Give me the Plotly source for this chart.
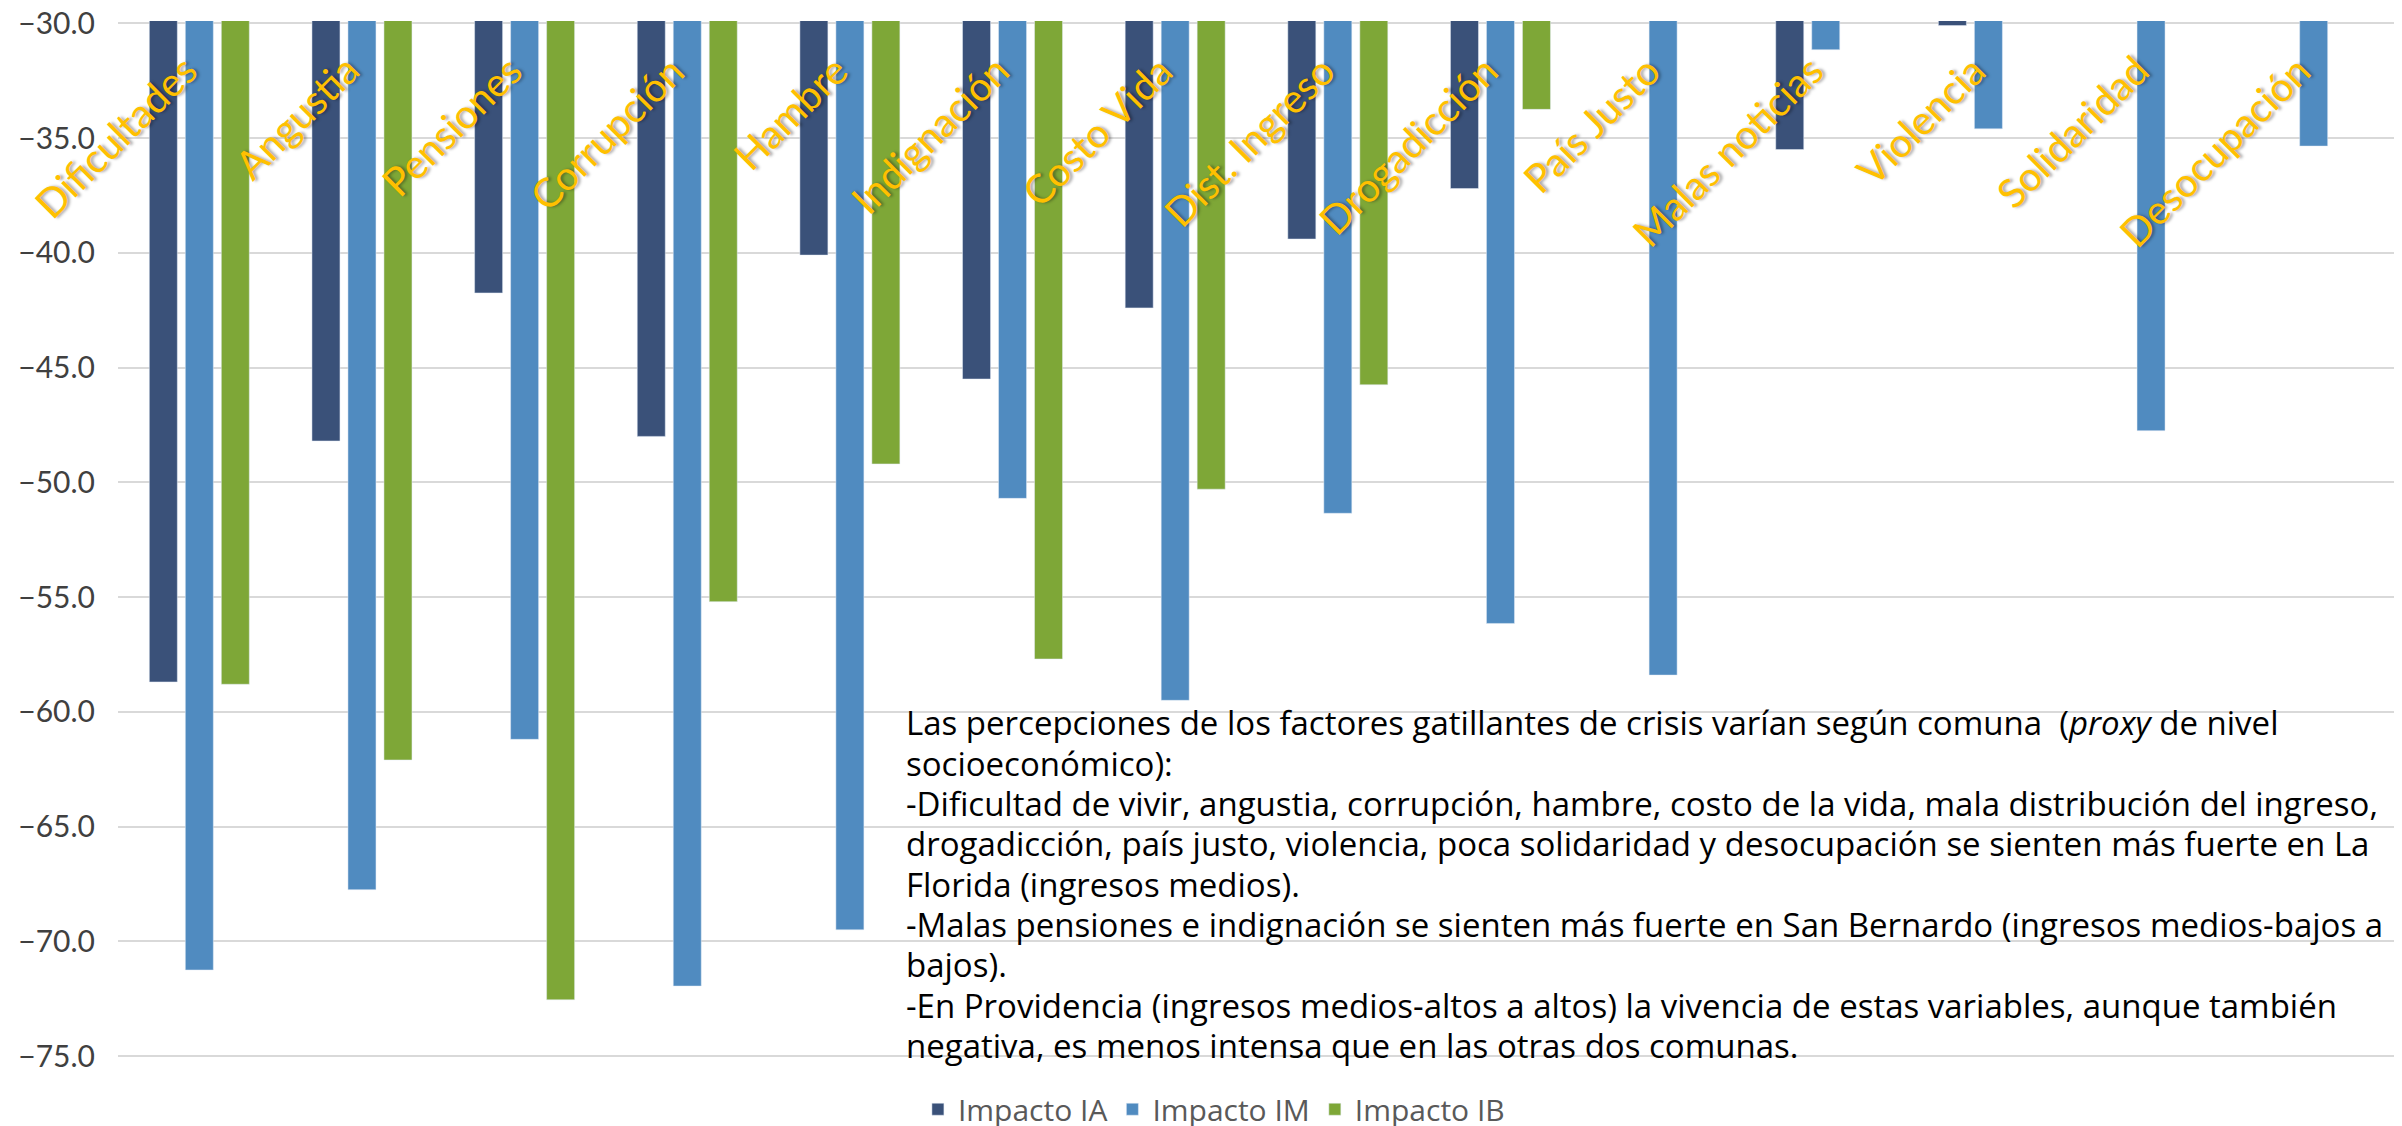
import plotly.graph_objects as go

# Categorías y valores por comuna (Impacto IA / IM / IB)
categorias = ["Dificultades", "Angustia", "Pensiones", "Corrupción", "Hambre",
              "Indignación", "Costo Vida", "Dist. Ingreso", "Drogadicción",
              "País Justo", "Malas noticias", "Violencia", "Solidaridad", "Desocupación"]
impacto_ia = [-58.7, -48.2, -41.75, -48.0, -40.1, -45.5, -42.4, -39.4, -37.2,
              None, -35.5, -30.1, None, None]
impacto_im = [-71.25, -67.75, -61.2, -71.95, -69.5, -50.7, -59.5, -51.35, -56.15,
              -58.4, -31.15, -34.6, -47.75, -35.35]
impacto_ib = [-58.8, -62.1, -72.55, -55.2, -49.2, -57.7, -50.3, -45.75, -33.75,
              None, None, None, None, None]

nota = ["Las percepciones de los factores gatillantes de crisis varían según comuna  (<i>proxy</i> de nivel",
        "socioeconómico):",
        "-Dificultad de vivir, angustia, corrupción, hambre, costo de la vida, mala distribución del ingreso,",
        "drogadicción, país justo, violencia, poca solidaridad y desocupación se sienten más fuerte en La",
        "Florida (ingresos medios).",
        "-Malas pensiones e indignación se sienten más fuerte en San Bernardo (ingresos medios-bajos a",
        "bajos).",
        "-En Providencia (ingresos medios-altos a altos) la vivencia de estas variables, aunque también",
        "negativa, es menos intensa que en las otras dos comunas."]

fig = go.Figure()
fig.add_trace(go.Bar(x=categorias, y=impacto_ia, name="Impacto IA", marker_color="#3A5179"))
fig.add_trace(go.Bar(x=categorias, y=impacto_im, name="Impacto IM", marker_color="#508BC0"))
fig.add_trace(go.Bar(x=categorias, y=impacto_ib, name="Impacto IB", marker_color="#7EA737"))

# etiquetas de categoría rotadas dentro del gráfico
for c in categorias:
    fig.add_annotation(x=c, xref="x", y=0.979, yref="paper", text=c, showarrow=False,
                       textangle=-45, xanchor="right", yanchor="top", xshift=9,
                       font=dict(family="Lato", size=40, color="#FFC000",
                                 shadow="2px 2px 3px rgba(0,0,0,0.35)"))

# cuadro de texto, una línea por anotación
for i, linea in enumerate(nota):
    fig.add_annotation(x=0.345, xref="paper", y=0.3368 - i * 0.03814, yref="paper",
                       text=linea, showarrow=False, align="left",
                       xanchor="left", yanchor="middle",
                       font=dict(family="Open Sans", size=33, color="#000000"))

fig.update_layout(
    width=2402, height=1126,
    margin=dict(l=110, r=15, t=13, b=55),
    paper_bgcolor="white", plot_bgcolor="white",
    barmode="group", bargap=0.336, bargroupgap=0.222,
    font=dict(family="Lato"),
    showlegend=True,
    legend=dict(orientation="h", x=0.4813, xanchor="center",
                yref="container", y=0.022, yanchor="middle",
                font=dict(family="Open Sans", size=30, color="#595959"), traceorder="normal"),
    xaxis=dict(range=[-0.5, 13.5], showticklabels=False, showgrid=False,
               zeroline=False, showline=False, automargin=False),
    yaxis=dict(range=[-76, -29.9], dtick=5, tick0=-30, tickformat=".1f",
               gridcolor="#D9D9D9", gridwidth=2, zeroline=False, showline=False,
               automargin=False, ticklabeloverflow="allow",
               ticklabelstandoff=22, tickfont=dict(size=30, color="#404040")),
)

fig.write_html("out.html")
